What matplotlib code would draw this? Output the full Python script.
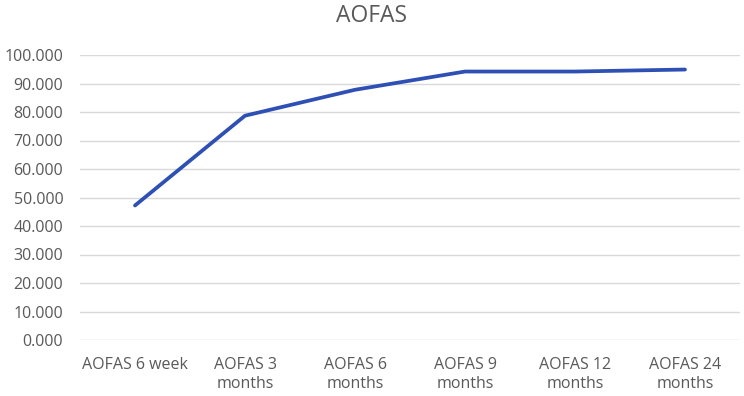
import matplotlib
matplotlib.use('Agg')
import matplotlib.pyplot as plt
import numpy as np

categories = ['AOFAS 6 week', 'AOFAS 3\nmonths', 'AOFAS 6\nmonths',
              'AOFAS 9\nmonths', 'AOFAS 12\nmonths', 'AOFAS 24\nmonths']
scores = [47.2, 78.7, 87.8, 94.2, 94.2, 94.9]
yticks = np.arange(0, 101, 10)

plt.rcParams['font.family'] = ['Open Sans', 'DejaVu Sans']
txt = '#595959'

fig = plt.figure(figsize=(7.44, 3.96), dpi=100)
ax = fig.add_axes([80/744, 1-340/396, 660/744, 285/396])

x = np.arange(len(categories))
ax.plot(x, scores, color='#2E50B4', lw=2.7, solid_capstyle='round', solid_joinstyle='round')

ax.set_xlim(-0.5, len(categories) - 0.5)
ax.set_ylim(0, 100)
ax.set_yticks(yticks)
ax.set_yticklabels([f'{v:.3f}' for v in yticks], color=txt, fontsize=11.5)
ax.set_xticks(x)
ax.set_xticklabels(categories, color=txt, fontsize=11.5, linespacing=1.25)
ax.tick_params(axis='x', length=0, pad=12)
ax.tick_params(axis='y', length=0, pad=12)
ax.grid(axis='y', color='#d9d9d9', lw=1)
ax.set_axisbelow(True)
for s in ax.spines.values():
    s.set_visible(False)

fig.text(0.5, 1-16/396, 'AOFAS', ha='center', va='center', fontsize=16.5, color=txt)

fig.savefig('out.png', dpi=100)
